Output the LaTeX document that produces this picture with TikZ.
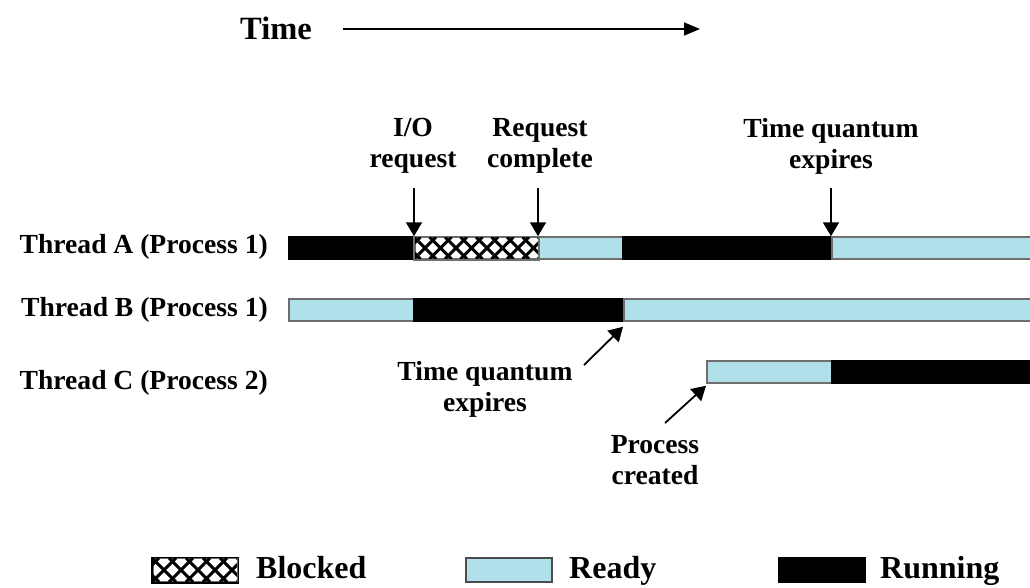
\documentclass[tikz,border=0pt]{standalone}
\usepackage{fontspec}
\setmainfont{Liberation Serif}
\usetikzlibrary{arrows.meta}
\definecolor{readyc}{RGB}{176,224,234}
\definecolor{edgec}{RGB}{110,110,110}
\tikzset{
  lbl/.style={font=\bfseries\fontsize{27.6}{31}\selectfont, inner sep=0pt, align=center},
  leg/.style={font=\bfseries\fontsize{32}{34}\selectfont, inner sep=0pt, anchor=base west},
  seg/.style={rectangle, inner sep=0pt, minimum height=22pt, anchor=west, line width=1.5pt},
  readyseg/.style={seg, fill=readyc, draw=edgec},
  runseg/.style={seg, fill=black, draw=black},
  blockseg/.style={seg, draw=edgec, fill=white},
  evarrow/.style={line width=1.8pt, -{Triangle[width=16pt,length=14pt]}},
  hatch/.style={line width=3pt, black},
}
\begin{document}
\begin{tikzpicture}[x=1pt,y=-1pt]
\useasboundingbox (0,0) rectangle (1030,587);
% Time axis
\node[lbl, font=\bfseries\fontsize{32.5}{34}\selectfont, anchor=west] (time) at (240,28) {Time};
\coordinate (ts) at (343,29);
\coordinate (te) at (700,29);
\draw[line width=1.6pt, -{Triangle[width=13pt,length=16pt]}] (ts) -- (te);

% Thread labels
\node[lbl, anchor=east] (la) at (268,247) {Thread A (Process 1)};
\node[lbl, anchor=east] (lb) at (268,310) {Thread B (Process 1)};
\node[lbl, anchor=east] (lc) at (268,383) {Thread C (Process 2)};

% Thread A
\node[runseg, minimum width=126pt] (a1) at (288,248) {};
\node[blockseg, minimum width=124pt] (a2) at (414,248) {};
\begin{scope}
  \clip (414,237) rectangle (538,259);
  \foreach \k in {-2,...,10} {
    \draw[hatch] (414+\k*15.5,237) -- ++(22,22);
    \draw[hatch] (414+\k*15.5,259) -- ++(22,-22);
  }
\end{scope}
\draw[edgec, line width=1.5pt] (a2.north west) rectangle (a2.south east);
\node[readyseg, minimum width=84pt] (a3) at (538,248) {};
\node[runseg, minimum width=209pt] (a4) at (622,248) {};
\node[readyseg, minimum width=205pt] (a5) at (831,248) {};

% Thread B
\node[readyseg, minimum width=125pt] (b1) at (288,310) {};
\node[runseg, minimum width=210pt] (b2) at (413,310) {};
\node[readyseg, minimum width=413pt] (b3) at (623,310) {};

% Thread C
\node[readyseg, minimum width=125pt] (c1) at (706,372) {};
\node[runseg, minimum width=205pt] (c2) at (831,372) {};

% Event labels (top)
\node[lbl] (io) at (413,146) {I/O\\request};
\node[lbl] (rc) at (540,146) {Request\\complete};
\node[lbl] (tq1) at (831,146) {Time quantum\\expires};
\draw[evarrow] ([yshift=48pt]a2.north west) -- (a2.north west);
\draw[evarrow] ([yshift=48pt]a3.north west) -- (a3.north west);
\draw[evarrow] ([yshift=48pt]a5.north west) -- (a5.north west);

% Event labels (bottom)
\node[lbl] (tq2) at (485,389) {Time quantum\\expires};
\node[lbl] (pc) at (655,460) {Process\\created};
\coordinate (tq2s) at (584,365);
\coordinate (pcs) at (665,423);
\draw[evarrow] (tq2s) -- ([yshift=-5pt]b3.south west);
\draw[evarrow] (pcs) -- ([yshift=-2pt]c1.south west);

% Legend
\node[blockseg, minimum width=85pt, minimum height=24pt] (kb) at (152,570) {};
\begin{scope}
  \clip (152,558) rectangle (237,582);
  \foreach \k in {-2,...,6} {
    \draw[hatch] (152+\k*17,558) -- ++(24,24);
    \draw[hatch] (152+\k*17,582) -- ++(24,-24);
  }
\end{scope}
\draw[black, line width=1.5pt] (kb.north west) rectangle (kb.south east);
\node[leg] (tb) at (256,578) {Blocked};
\node[readyseg, minimum width=86pt, minimum height=24pt, draw=black!70] (kr) at (465,570) {};
\node[leg] (tr) at (569,578) {Ready};
\node[runseg, minimum width=86pt, minimum height=24pt] (kn) at (778,570) {};
\node[leg] (tn) at (880,578) {Running};
\end{tikzpicture}
\end{document}
